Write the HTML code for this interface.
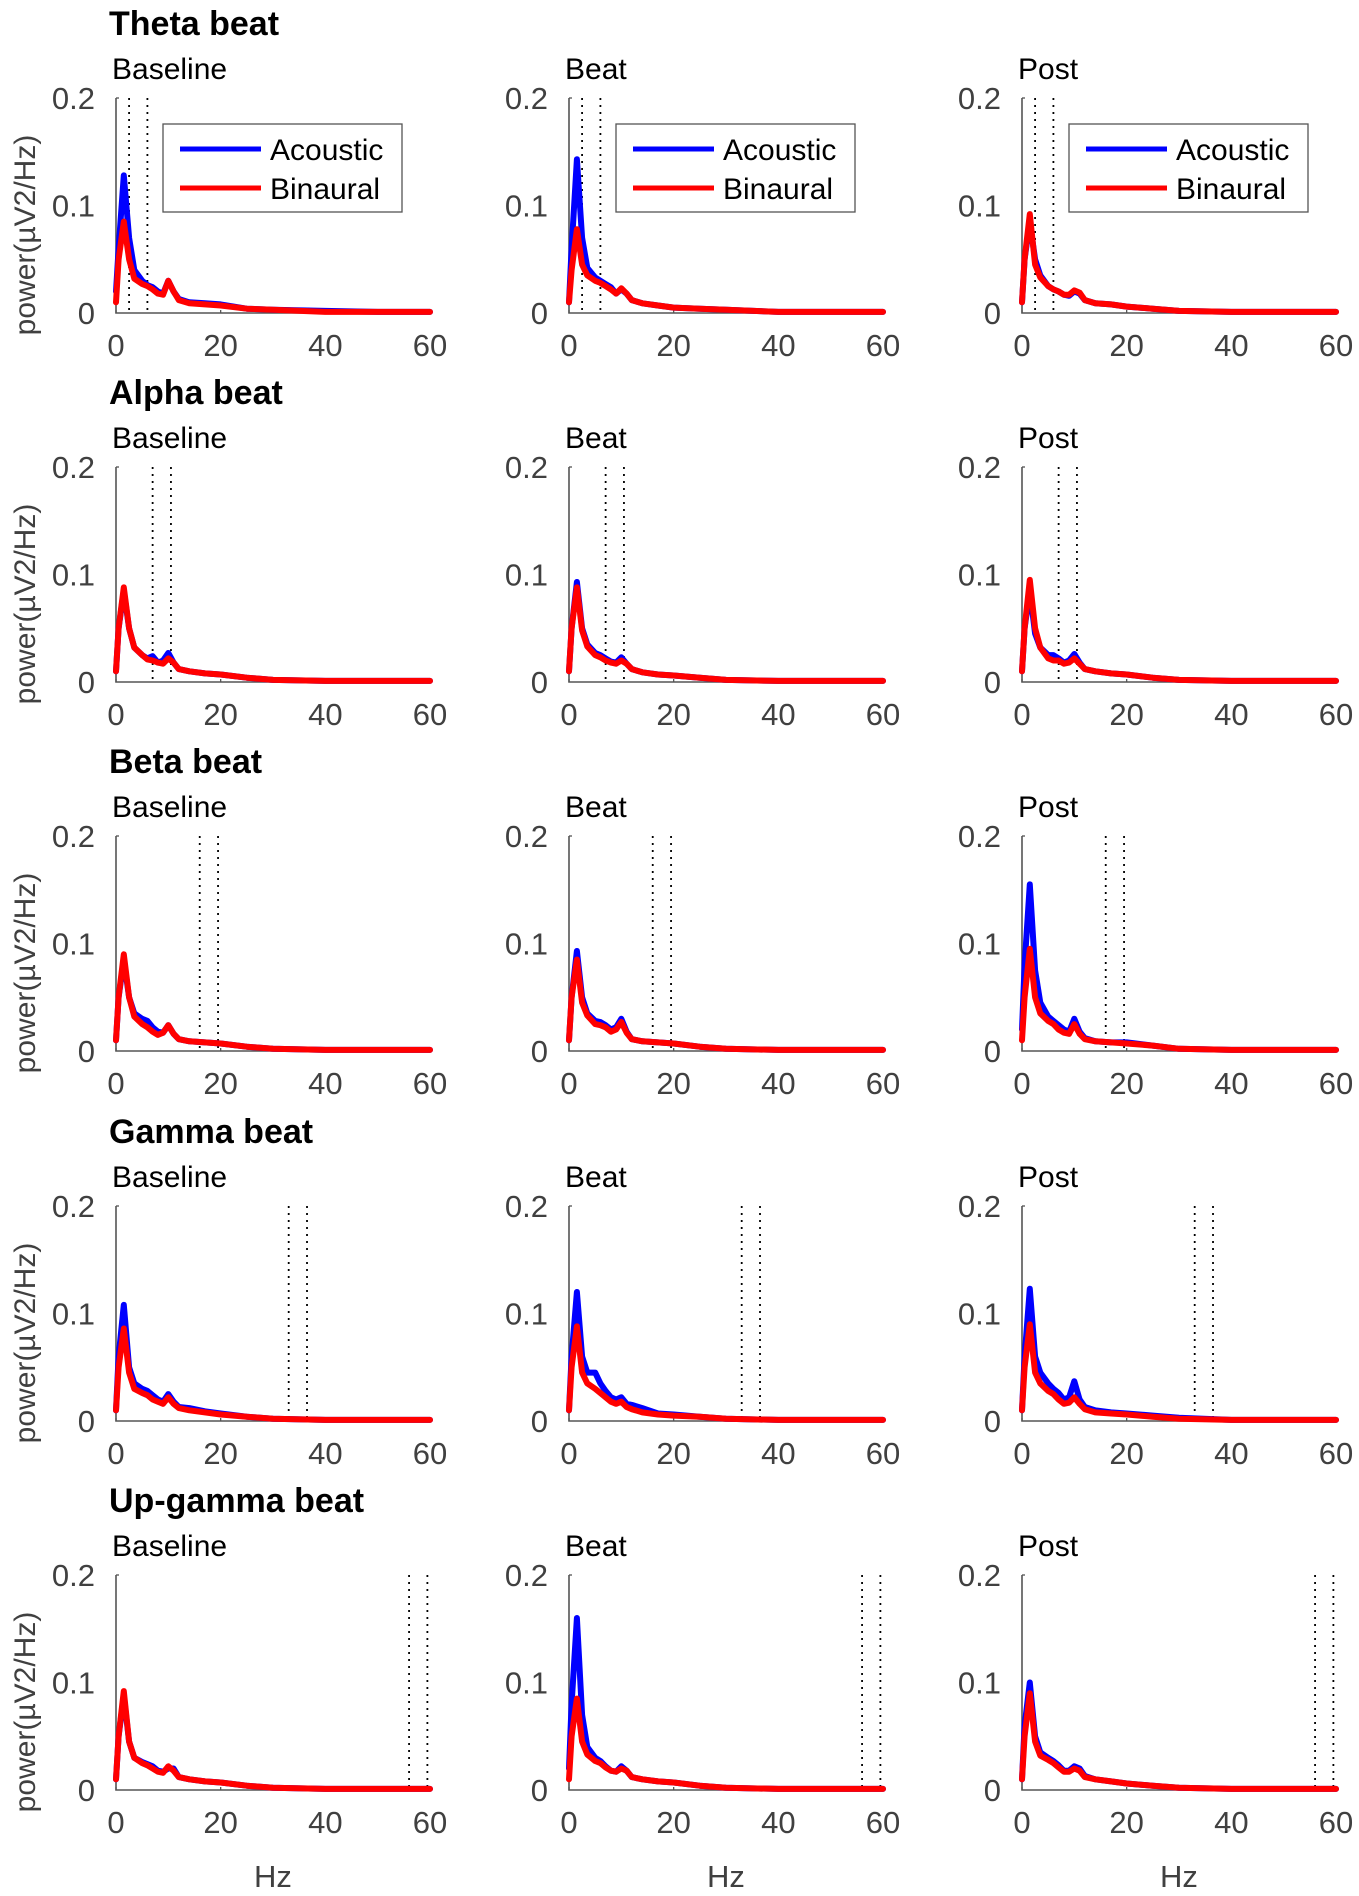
<!DOCTYPE html>
<html><head><meta charset="utf-8">
<style>
html,body{margin:0;padding:0;background:#fff;}
svg{display:block;font-family:"Liberation Sans",sans-serif;}
</style></head>
<body>
<svg id="fig" width="1359" height="1896" viewBox="0 0 1359 1896"></svg>
<script>
// ---- data ----
const freqs = [0,0.5,1.5,2.5,3.5,5,6,7,8,9,10,11,12,14,17,20,25,30,40,50,60];
const rowTitles = ["Theta beat","Alpha beat","Beta beat","Gamma beat","Up-gamma beat"];
const colTitles = ["Baseline","Beat","Post"];
const bandEdges = [[2.5,6],[7,10.5],[16,19.5],[33,36.5],[56,59.5]];
const xTicks = [0,20,40,60];
const yTicks = [0,0.1,0.2];
const yTickLabels = ["0","0.1","0.2"];
const seriesNames = ["Acoustic","Binaural"];
// acoustic (blue) per panel, row-major
const acoustic = [
 [0.02,0.06,0.128,0.07,0.04,0.03,0.026,0.024,0.02,0.018,0.03,0.02,0.013,0.01,0.009,0.008,0.004,0.003,0.002,0.001,0.001],
 [0.01,0.06,0.143,0.07,0.042,0.033,0.03,0.027,0.024,0.018,0.022,0.018,0.012,0.009,0.007,0.005,0.004,0.003,0.001,0.001,0.001],
 [0.01,0.05,0.085,0.05,0.035,0.025,0.022,0.02,0.017,0.016,0.02,0.018,0.012,0.009,0.008,0.006,0.004,0.002,0.001,0.001,0.001],
 [0.01,0.05,0.085,0.05,0.032,0.025,0.022,0.024,0.018,0.02,0.027,0.018,0.012,0.01,0.008,0.007,0.004,0.002,0.001,0.001,0.001],
 [0.01,0.05,0.093,0.05,0.035,0.027,0.025,0.022,0.019,0.018,0.023,0.017,0.012,0.009,0.007,0.006,0.004,0.002,0.001,0.001,0.001],
 [0.01,0.05,0.085,0.045,0.032,0.025,0.025,0.022,0.018,0.02,0.026,0.018,0.012,0.01,0.008,0.007,0.004,0.002,0.001,0.001,0.001],
 [0.01,0.05,0.085,0.05,0.035,0.03,0.028,0.022,0.018,0.017,0.024,0.016,0.011,0.009,0.008,0.007,0.004,0.002,0.001,0.001,0.001],
 [0.01,0.05,0.093,0.05,0.035,0.028,0.027,0.024,0.02,0.022,0.03,0.018,0.011,0.009,0.008,0.007,0.004,0.002,0.001,0.001,0.001],
 [0.02,0.08,0.155,0.075,0.045,0.032,0.028,0.024,0.02,0.018,0.03,0.018,0.012,0.009,0.008,0.008,0.005,0.002,0.001,0.001,0.001],
 [0.01,0.06,0.108,0.05,0.035,0.03,0.028,0.024,0.02,0.018,0.025,0.018,0.013,0.012,0.009,0.007,0.004,0.002,0.001,0.001,0.001],
 [0.01,0.06,0.12,0.06,0.045,0.045,0.035,0.028,0.022,0.02,0.022,0.016,0.015,0.012,0.007,0.006,0.004,0.002,0.001,0.001,0.001],
 [0.01,0.06,0.123,0.06,0.045,0.035,0.03,0.026,0.02,0.022,0.037,0.02,0.013,0.01,0.008,0.007,0.005,0.003,0.001,0.001,0.001],
 [0.01,0.05,0.088,0.045,0.03,0.026,0.024,0.022,0.018,0.017,0.02,0.02,0.012,0.01,0.008,0.007,0.004,0.002,0.001,0.001,0.001],
 [0.02,0.08,0.16,0.07,0.04,0.03,0.027,0.022,0.018,0.017,0.022,0.018,0.012,0.01,0.008,0.007,0.004,0.002,0.001,0.001,0.001],
 [0.01,0.06,0.1,0.05,0.035,0.03,0.027,0.023,0.018,0.018,0.022,0.02,0.013,0.01,0.008,0.006,0.004,0.002,0.001,0.001,0.001]
];
// binaural (red) per panel, row-major
const binaural = [
 [0.01,0.05,0.085,0.05,0.032,0.027,0.025,0.022,0.018,0.017,0.03,0.02,0.012,0.009,0.008,0.007,0.004,0.003,0.001,0.001,0.001],
 [0.01,0.04,0.078,0.045,0.035,0.03,0.028,0.025,0.022,0.018,0.023,0.018,0.012,0.009,0.007,0.005,0.004,0.003,0.001,0.001,0.001],
 [0.01,0.05,0.092,0.045,0.033,0.025,0.022,0.02,0.017,0.017,0.021,0.019,0.012,0.009,0.008,0.006,0.004,0.002,0.001,0.001,0.001],
 [0.01,0.05,0.088,0.05,0.032,0.025,0.021,0.02,0.018,0.017,0.022,0.018,0.012,0.01,0.008,0.007,0.004,0.002,0.001,0.001,0.001],
 [0.01,0.05,0.088,0.048,0.033,0.025,0.023,0.02,0.018,0.017,0.02,0.017,0.012,0.009,0.007,0.006,0.004,0.002,0.001,0.001,0.001],
 [0.01,0.05,0.095,0.05,0.032,0.022,0.02,0.02,0.017,0.018,0.022,0.017,0.012,0.01,0.008,0.007,0.004,0.002,0.001,0.001,0.001],
 [0.01,0.05,0.09,0.05,0.032,0.025,0.022,0.018,0.015,0.017,0.024,0.016,0.011,0.009,0.008,0.007,0.004,0.002,0.001,0.001,0.001],
 [0.01,0.05,0.085,0.045,0.033,0.025,0.024,0.022,0.018,0.02,0.027,0.017,0.011,0.009,0.008,0.007,0.004,0.002,0.001,0.001,0.001],
 [0.01,0.05,0.095,0.05,0.035,0.028,0.025,0.02,0.017,0.016,0.025,0.016,0.011,0.009,0.008,0.007,0.005,0.002,0.001,0.001,0.001],
 [0.01,0.05,0.086,0.045,0.03,0.026,0.024,0.02,0.018,0.016,0.022,0.016,0.012,0.01,0.008,0.006,0.004,0.002,0.001,0.001,0.001],
 [0.01,0.05,0.088,0.045,0.035,0.03,0.026,0.022,0.018,0.016,0.018,0.013,0.011,0.008,0.006,0.005,0.004,0.002,0.001,0.001,0.001],
 [0.01,0.05,0.09,0.045,0.035,0.028,0.025,0.02,0.016,0.017,0.022,0.016,0.011,0.008,0.007,0.006,0.004,0.002,0.001,0.001,0.001],
 [0.01,0.05,0.092,0.045,0.03,0.025,0.023,0.02,0.017,0.016,0.022,0.018,0.012,0.01,0.008,0.007,0.004,0.002,0.001,0.001,0.001],
 [0.01,0.05,0.085,0.045,0.033,0.027,0.025,0.021,0.018,0.017,0.02,0.018,0.012,0.01,0.008,0.007,0.004,0.002,0.001,0.001,0.001],
 [0.01,0.05,0.09,0.045,0.032,0.028,0.025,0.021,0.017,0.017,0.02,0.018,0.012,0.01,0.008,0.006,0.004,0.002,0.001,0.001,0.001]
];
// ---- drawing ----
const NS="http://www.w3.org/2000/svg";
const svg=document.getElementById('fig');
const colX=[116,569,1022], rowY=[98,467,836,1206,1575];
const PW=314, PH=215;
function mk(tag,attrs,parent,text){const e=document.createElementNS(NS,tag);for(const k in attrs)e.setAttribute(k,attrs[k]);if(text!==undefined)e.textContent=text;(parent||svg).appendChild(e);return e;}
for(let r=0;r<5;r++){
  const t=mk('text',{x:109,y:rowY[r]-63,'font-size':34,'font-weight':'bold',fill:'#000'},svg,rowTitles[r]);
  
  
  for(let c=0;c<3;c++){
    const x0=colX[c], top=rowY[r], y0=top+PH;
    const sx=f=>x0+f/60*PW, sy=v=>y0-v/0.2*PH;
    const g=mk('g',{});
    
    
    const st=mk('text',{x:x0-4,y:top-19,'font-size':30,fill:'#000'},g,colTitles[c]);
    
    
    mk('path',{d:`M${x0} ${top}V${y0}H${sx(60)}`,stroke:'#555','stroke-width':1.6,fill:'none'},g);
    mk('path',{d:`M${x0} ${top}h3`,stroke:'#555','stroke-width':1.3},g);
    xTicks.forEach(v=>{
      mk('path',{d:`M${sx(v)} ${y0}v-3`,stroke:'#555','stroke-width':1.3},g);
      const tl=mk('text',{x:sx(v),y:y0+43,'font-size':31,fill:'#404040','text-anchor':'middle'},g,String(v));
      
      
    });
    yTicks.forEach((v,i)=>{
      const tl=mk('text',{x:x0-21,y:sy(v)+11,'font-size':31,fill:'#404040','text-anchor':'end'},g,yTickLabels[i]);
      
      
    });
    if(c===0){
      const yl=mk('text',{x:0,y:0,'font-size':30,fill:'#404040','text-anchor':'middle',transform:`translate(35 ${top+137}) rotate(-90)`},g,'power(µV2/Hz)');
      
      
    }
    if(r===4){
      const xl=mk('text',{x:x0+PW/2,y:1887,'font-size':31,fill:'#404040','text-anchor':'middle'},g,'Hz');
      
      
    }
    bandEdges[r].forEach(f=>{
      const d=mk('line',{x1:sx(f),x2:sx(f),y1:top,y2:y0,stroke:'#000','stroke-width':1.8,'stroke-dasharray':'2 5'},g);
      
      
    });
    const idx=r*3+c;
    [[acoustic,'#0000ff','acoustic-line'],[binaural,'#ff0000','binaural-line']].forEach(([arr,col,nm])=>{
      const pts=freqs.map((f,i)=>sx(f).toFixed(1)+','+sy(arr[idx][i]).toFixed(1)).join(' ');
      const pl=mk('polyline',{points:pts,fill:'none',stroke:col,'stroke-width':6,'stroke-linejoin':'round','stroke-linecap':'round'},g);
      
      
    });
    if(r===0){
      const lg=mk('g',{},g);
      
      
      mk('rect',{x:x0+47,y:124,width:239,height:88,fill:'#fff',stroke:'#555','stroke-width':1.3},lg);
      [['#0000ff',149],['#ff0000',188]].forEach(([col,yy],i)=>{
        mk('line',{x1:x0+64,x2:x0+145,y1:yy,y2:yy,stroke:col,'stroke-width':5},lg);
        const le=mk('text',{x:x0+154,y:yy+11,'font-size':30,fill:'#000'},lg,seriesNames[i]);
        
        
      });
    }
  }
}
</script>
</body></html>
